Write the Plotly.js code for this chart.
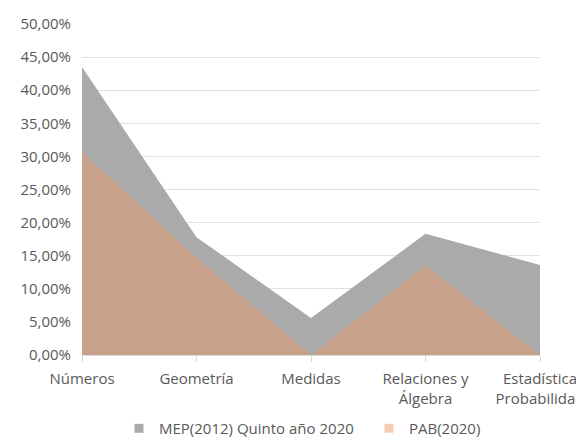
<!DOCTYPE html>
<html>
<head>
<meta charset="utf-8">
<script src="https://cdn.plot.ly/plotly-3.0.1.min.js"></script>
<style>
  html, body { margin: 0; padding: 0; background: #fff; }
  #chart { width: 576px; height: 440px; }
</style>
</head>
<body>
<div id="chart"></div>
<script>
// Content areas of the curriculum
const categories = ["Números", "Geometría", "Medidas", "Relaciones y<br>Álgebra", "Estadística<br>Probabilidad"];

// Share of items per area (fractions)
const mepValues = [0.435, 0.178, 0.056, 0.183, 0.136];
const pabValues = [0.307, 0.147, 0.0, 0.135, 0.0];

const seriesNames = ["MEP(2012) Quinto año 2020", "PAB(2020)"];

const fontFamily = "'Open Sans', 'Noto Sans', 'Liberation Sans', sans-serif";
const gray = "#aaaaaa";
const peachArea = "rgba(236,150,100,0.45)";
const peachKey = "#f6cdb3";

const traces = [
  {
    x: categories, y: mepValues, name: seriesNames[0],
    type: "scatter", mode: "none", fill: "tozeroy", fillcolor: gray,
    showlegend: false, hoverinfo: "skip"
  },
  {
    x: categories, y: pabValues, name: seriesNames[1],
    type: "scatter", mode: "none", fill: "tozeroy", fillcolor: peachArea,
    showlegend: false, hoverinfo: "skip"
  },
  // square legend keys, one legend box each
  {
    x: [null], y: [null], name: seriesNames[0], type: "scatter", mode: "markers",
    marker: { symbol: "square", size: 9, color: gray }, hoverinfo: "skip",
    legend: "legend"
  },
  {
    x: [null], y: [null], name: seriesNames[1], type: "scatter", mode: "markers",
    marker: { symbol: "square", size: 9, color: peachKey }, hoverinfo: "skip",
    legend: "legend2"
  }
];

const legendBase = {
  orientation: "h",
  xref: "container",
  xanchor: "left",
  yref: "container",
  y: 0.026,
  yanchor: "middle",
  font: { size: 15, color: "#595959" },
  itemwidth: 30,
  bgcolor: "rgba(0,0,0,0)"
};

const layout = {
  width: 576,
  height: 440,
  margin: { l: 82, r: 36, t: 24, b: 85 },
  paper_bgcolor: "#ffffff",
  plot_bgcolor: "#ffffff",
  separators: ",.",
  font: { family: fontFamily, size: 15, color: "#595959" },
  showlegend: true,
  legend: Object.assign({}, legendBase, { x: 119 / 576 }),
  legend2: Object.assign({}, legendBase, { x: 369 / 576 }),
  xaxis: {
    type: "category",
    range: [0, 4],
    showgrid: false,
    showline: true,
    linecolor: "#d9d9d9",
    linewidth: 1,
    ticks: "outside",
    ticklen: 6,
    tickcolor: "#d9d9d9",
    ticklabelstandoff: 4,
    tickfont: { size: 15, color: "#595959" },
    fixedrange: true
  },
  yaxis: {
    range: [0, 0.5],
    dtick: 0.05,
    tickformat: ".2%",
    showgrid: true,
    gridcolor: "#e0e0e0",
    gridwidth: 1,
    zeroline: false,
    showline: false,
    ticks: "",
    ticklabelstandoff: 10,
    tickfont: { size: 15, color: "#595959" },
    fixedrange: true
  }
};

Plotly.newPlot("chart", traces, layout, { displayModeBar: false, staticPlot: true });
</script>
</body>
</html>
